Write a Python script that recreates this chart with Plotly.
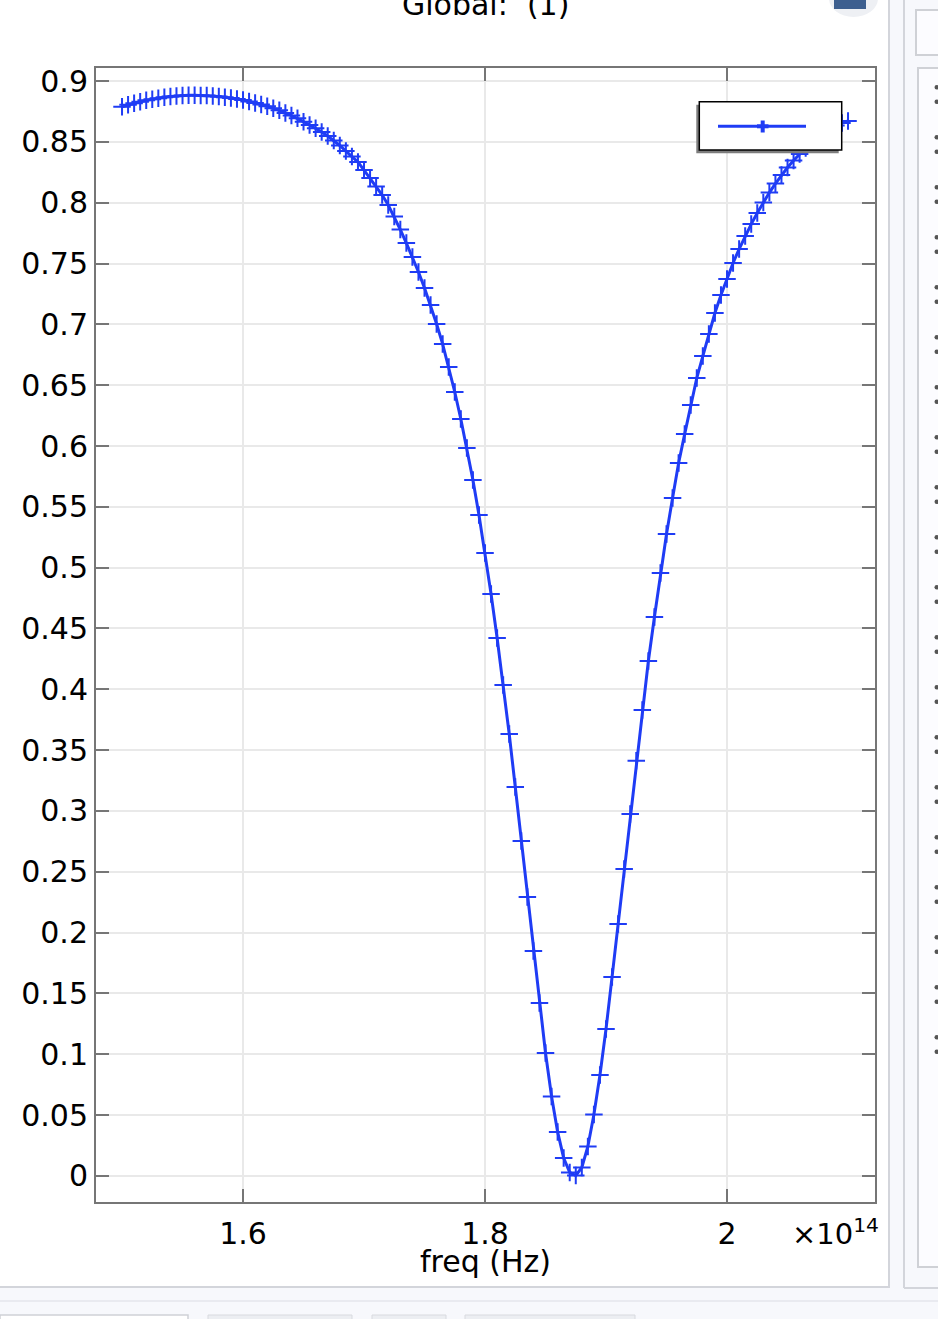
import plotly.graph_objects as go

# ---------------- data ----------------
freq_e14 = [
    1.500, 1.505, 1.510, 1.515, 1.520, 1.525, 1.530, 1.535, 1.540, 1.545,
    1.550, 1.555, 1.560, 1.565, 1.570, 1.575, 1.580, 1.585, 1.590, 1.595,
    1.600, 1.605, 1.610, 1.615, 1.620, 1.625, 1.630, 1.635, 1.640, 1.645,
    1.650, 1.655, 1.660, 1.665, 1.670, 1.675, 1.680, 1.685, 1.690, 1.695,
    1.700, 1.705, 1.710, 1.715, 1.720, 1.725, 1.730, 1.735, 1.740, 1.745,
    1.750, 1.755, 1.760, 1.765, 1.770, 1.775, 1.780, 1.785, 1.790, 1.795,
    1.800, 1.805, 1.810, 1.815, 1.820, 1.825, 1.830, 1.835, 1.840, 1.845,
    1.850, 1.855, 1.860, 1.865, 1.870, 1.875, 1.880, 1.885, 1.890, 1.895,
    1.900, 1.905, 1.910, 1.915, 1.920, 1.925, 1.930, 1.935, 1.940, 1.945,
    1.950, 1.955, 1.960, 1.965, 1.970, 1.975, 1.980, 1.985, 1.990, 1.995,
    2.000, 2.005, 2.010, 2.015, 2.020, 2.025, 2.030, 2.035, 2.040, 2.045,
    2.050, 2.055, 2.060, 2.065, 2.070, 2.075, 2.080, 2.085, 2.090, 2.095,
    2.100,
]

values = [
    0.8789, 0.8804, 0.8818, 0.8830, 0.8841, 0.8851, 0.8859, 0.8867, 0.8872, 0.8877,
    0.8880, 0.8882, 0.8882, 0.8881, 0.8880, 0.8876, 0.8872, 0.8867, 0.8860, 0.8852,
    0.8843, 0.8832, 0.8820, 0.8807, 0.8793, 0.8777, 0.8760, 0.8737, 0.8716, 0.8693,
    0.8666, 0.8639, 0.8611, 0.8581, 0.8548, 0.8511, 0.8470, 0.8424, 0.8379, 0.8334,
    0.8268, 0.8203, 0.8133, 0.8063, 0.7981, 0.7886, 0.7779, 0.7668, 0.7553, 0.7430,
    0.7298, 0.7159, 0.7003, 0.6838, 0.6649, 0.6444, 0.6222, 0.5983, 0.5720, 0.5433,
    0.5120, 0.4783, 0.4422, 0.4036, 0.3633, 0.3197, 0.2753, 0.2293, 0.1849, 0.1422,
    0.1011, 0.0653, 0.0362, 0.0148, 0.0029, 0.0003, 0.0070, 0.0242, 0.0505, 0.0830,
    0.1208, 0.1636, 0.2071, 0.2523, 0.2975, 0.3413, 0.3830, 0.4233, 0.4594, 0.4956,
    0.5277, 0.5572, 0.5860, 0.6098, 0.6337, 0.6559, 0.6739, 0.6920, 0.7093, 0.7241,
    0.7373, 0.7504, 0.7619, 0.7726, 0.7824, 0.7915, 0.8001, 0.8083, 0.8157, 0.8227,
    0.8289, 0.8346, 0.8400, 0.8449, 0.8494, 0.8535, 0.8572, 0.8605, 0.8634, 0.8654,
    0.8671,
]

x_tickvals = [1.6, 1.8, 2.0]
x_ticktext = ["1.6", "1.8", "2"]
y_tickvals = [0, 0.05, 0.1, 0.15, 0.2, 0.25, 0.3, 0.35, 0.4, 0.45,
              0.5, 0.55, 0.6, 0.65, 0.7, 0.75, 0.8, 0.85, 0.9]
y_ticktext = ["0", "0.05", "0.1", "0.15", "0.2", "0.25", "0.3", "0.35", "0.4", "0.45",
              "0.5", "0.55", "0.6", "0.65", "0.7", "0.75", "0.8", "0.85", "0.9"]

title_text = "Global:  (1)"
x_title = "freq (Hz)"
exp_text = "×10<sup>14</sup>"

# ---------------- layout helpers ----------------
W, H = 938, 1319
L, R, T, B = 96, 875, 68, 1202
BLUE = "#1f3cf5"
AXIS = "#767676"
FONT = "DejaVu Sans"
FS = 30


def px(x):
    return (x - L) / (R - L)


def py(y):
    return (B - y) / (B - T)


fig = go.Figure()
fig.add_trace(go.Scatter(
    x=freq_e14, y=values, mode="lines+markers",
    line=dict(color=BLUE, width=3),
    marker=dict(symbol="cross-thin", size=12.5, line=dict(color=BLUE, width=2)),
    showlegend=False, cliponaxis=True,
))

shapes = []


def rect(x0, y0, x1, y1, fill=None, line=None, lw=0, layer="above"):
    shapes.append(dict(type="rect", xref="paper", yref="paper",
                       x0=px(x0), x1=px(x1), y0=py(y0), y1=py(y1),
                       fillcolor=fill if fill else "rgba(0,0,0,0)",
                       line=dict(color=line if line else "rgba(0,0,0,0)", width=lw),
                       layer=layer))


def seg(x0, y0, x1, y1, color, lw, layer="above"):
    shapes.append(dict(type="line", xref="paper", yref="paper",
                       x0=px(x0), x1=px(x1), y0=py(y0), y1=py(y1),
                       line=dict(color=color, width=lw), layer=layer))


# ----- surrounding UI chrome -----
PANEL = "#f7f8fc"
BORDER = "#d3d5db"
rect(889, -5, 945, 1325, fill=PANEL, layer="below")
rect(-5, 1288, 945, 1325, fill=PANEL, layer="below")
seg(889, 0, 889, 1288, BORDER, 2)
seg(0, 1287, 889, 1287, BORDER, 2)
seg(904, 0, 904, 1288, BORDER, 2)
seg(904, 1288, 945, 1288, BORDER, 2)
seg(0, 1301, 945, 1301, "#e4e6ec", 1.5)
rect(916, 10, 950, 55, fill="#fcfcff", line="#cfd1d6", lw=2)
rect(918, 68, 950, 1267, fill="#fcfcff", line="#cfd1d6", lw=2)
for k in range(20):
    for off in (0, 14.4):
        yc = 87.3 + 50 * k + off
        shapes.append(dict(type="circle", xref="paper", yref="paper",
                           x0=px(934.5), x1=px(939), y0=py(yc - 2.2), y1=py(yc + 2.2),
                           fillcolor="#555555", line=dict(width=0)))
# tabs at the bottom
rect(0, 1315, 188, 1330, fill="#ffffff", line="#cfd1d6", lw=1.5)
rect(208, 1315, 352, 1330, fill="#eceef2", line="#d8dadf", lw=1)
rect(372, 1315, 446, 1330, fill="#eceef2", line="#d8dadf", lw=1)
rect(465, 1315, 635, 1330, fill="#eceef2", line="#d8dadf", lw=1)
# small icon at top right (cut off)
shapes.append(dict(type="circle", xref="paper", yref="paper",
                   x0=px(829), x1=px(878), y0=py(17), y1=py(-20),
                   fillcolor="#eef0f4", line=dict(width=0)))
rect(834, -5, 866, 9, fill="#3d5f8f")

# ----- legend box (manual) -----
rect(696.3, 104.7, 838.7, 153.3, fill="#7d7d7d")
rect(699.3, 101.7, 841.7, 150.0, fill="#ffffff", line="#000000", lw=1.5)
seg(718, 126.3, 806, 126.3, BLUE, 3)
seg(757, 126.3, 768.5, 126.3, BLUE, 4)
seg(762.7, 120.5, 762.7, 132.5, BLUE, 4)

annotations = [
    dict(text=title_text, xref="paper", yref="paper", x=px(485.5), y=py(24),
         xanchor="center", yanchor="bottom", showarrow=False,
         font=dict(family=FONT, size=FS, color="#000")),
    dict(text=exp_text, xref="paper", yref="paper", x=px(790), y=py(1232),
         xanchor="left", yanchor="middle", showarrow=False,
         font=dict(family=FONT, size=FS - 1, color="#000")),
    dict(text=x_title, xref="paper", yref="paper", x=px(485.5), y=py(1261),
         xanchor="center", yanchor="middle", showarrow=False,
         font=dict(family=FONT, size=FS, color="#000")),
]

axis_common = dict(
    showline=True, linecolor=AXIS, linewidth=2, mirror="ticks",
    ticks="inside", ticklen=13, tickwidth=2, tickcolor=AXIS,
    showgrid=True, gridcolor="#e9e9e9", gridwidth=1.5, zeroline=False,
    tickfont=dict(family=FONT, size=FS, color="#000"),
)

fig.update_layout(
    width=W, height=H,
    margin=dict(l=L, r=W - R, t=T, b=H - B, pad=0),
    paper_bgcolor="#ffffff", plot_bgcolor="#ffffff",
    font=dict(family=FONT, size=FS, color="#000"),
    xaxis=dict(range=[1.4785, 2.1223], tickmode="array", tickvals=x_tickvals,
               ticktext=x_ticktext, ticklabelstandoff=4, **axis_common),
    yaxis=dict(range=[-0.0214, 0.9107], tickmode="array", tickvals=y_tickvals,
               ticktext=y_ticktext, ticklabelstandoff=0, **axis_common),
    shapes=shapes, annotations=annotations, showlegend=False,
)

fig.write_html("out.html", config={"displayModeBar": False},
               post_script="document.body.style.margin='0px';"
                           "document.body.style.padding='0px';")
